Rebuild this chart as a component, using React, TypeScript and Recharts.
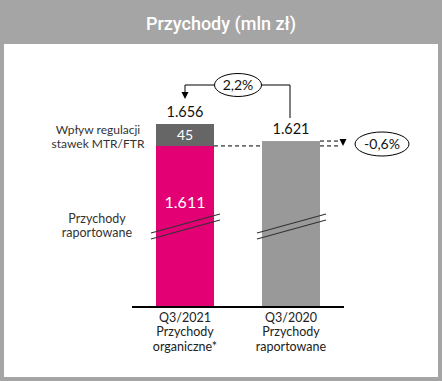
import { BarChart, Bar, XAxis, YAxis, Cell, LabelList, Customized } from 'recharts'

const categories = ['Q3/2021', 'Q3/2020']
const subLabels = [['Przychody', 'organiczne*'], ['Przychody', 'raportowane']]
const baseValues = [1611, 1621]
const mtrValues = [45, 0]
const changeLabels = ['2,2%', '-0,6%']
const mtrLabel = ['Wpływ regulacji', 'stawek MTR/FTR']
const baseLabel = ['Przychody', 'raportowane']

const W = 442
const H = 381
const MARGIN = { top: 102, right: 98, bottom: 14, left: 132 }
const X_AXIS_H = 60
const PLOT_BOTTOM = H - MARGIN.bottom - X_AXIS_H
const PLOT_H = PLOT_BOTTOM - MARGIN.top
const PLOT_W = W - MARGIN.left - MARGIN.right
const DOMAIN: [number, number] = [1281, 1701]
const BAR = 58

const FONT = 'Lato, sans-serif'
const baseColors = ['#e20074', '#999999']

const data = categories.map((name, i) => ({
  name,
  base: baseValues[i],
  mtr: mtrValues[i],
}))

const fmt = (v: number) =>
  v >= 1000 ? `${Math.floor(v / 1000)}.${String(v % 1000).padStart(3, '0')}` : String(v)

// helpers for the annotation overlay (same geometry as the chart)
const yOf = (v: number) => PLOT_BOTTOM - ((v - DOMAIN[0]) / (DOMAIN[1] - DOMAIN[0])) * PLOT_H
const xOf = (i: number) => MARGIN.left + (i + 0.5) * (PLOT_W / categories.length)

function BaseShape(props: any) {
  const { x, y, width, fill } = props
  const h = PLOT_BOTTOM - y
  const l = x - 5
  const r = x + width + 6
  return (
    <g>
      <rect x={x} y={y} width={width} height={h} fill={fill} />
      <line x1={l} y1={PLOT_BOTTOM - 74} x2={r} y2={PLOT_BOTTOM - 93} stroke="#333" strokeWidth={1.2} />
      <line x1={l} y1={PLOT_BOTTOM - 68} x2={r} y2={PLOT_BOTTOM - 87} stroke="#333" strokeWidth={1.2} />
    </g>
  )
}

function BaseLabel(props: any) {
  const { x, y, width, index } = props
  const cx = x + width / 2
  if (mtrValues[index] === 0) {
    // no MTR/FTR part: the total sits right on this bar
    return (
      <text x={cx} y={y - 7} textAnchor="middle" fill="#111" fontSize={14.5} fontFamily={FONT}>
        {fmt(baseValues[index])}
      </text>
    )
  }
  return (
    <text x={cx} y={y + 62} textAnchor="middle" fill="#fff" fontSize={16} fontFamily={FONT}>
      {fmt(baseValues[index])}
    </text>
  )
}

function TopLabel(props: any) {
  const { x, y, width, height, index } = props
  if (!mtrValues[index]) return null
  const cx = x + width / 2
  return (
    <g>
      <text x={cx} y={y + height / 2 + 5} textAnchor="middle" fill="#fff" fontSize={14} fontFamily={FONT}>
        {mtrValues[index]}
      </text>
      <text x={cx} y={y - 7} textAnchor="middle" fill="#111" fontSize={14.5} fontFamily={FONT}>
        {fmt(baseValues[index] + mtrValues[index])}
      </text>
    </g>
  )
}

function Lines({ x, y, lines, gap, size, fill }: { x: number; y: number; lines: string[]; gap: number; size: number; fill: string }) {
  return (
    <text x={x} y={y} textAnchor="middle" fill={fill} fontSize={size} fontFamily={FONT}>
      {lines.map((t, k) => (
        <tspan key={k} x={x} dy={k === 0 ? 0 : gap}>
          {t}
        </tspan>
      ))}
    </text>
  )
}

function CategoryTick(props: any) {
  const { x, payload } = props
  const i = categories.indexOf(payload.value)
  return <Lines x={x} y={PLOT_BOTTOM + 15} lines={[payload.value, ...subLabels[i]]} gap={14.3} size={12.5} fill="#222" />
}

function Annotations() {
  const x0 = xOf(0)
  const x1 = xOf(1)
  const top0 = yOf(baseValues[0] + mtrValues[0])
  const top1 = yOf(baseValues[1] + mtrValues[1])
  const base0 = yOf(baseValues[0])
  const ey = 85
  const ex = (x0 + x1) / 2
  const dashEnd = x1 + BAR / 2 + 20
  const arrowX = dashEnd + 3
  const ex2 = 382
  const ey2 = 144
  return (
    <g fontFamily={FONT}>
      <text x={W / 2} y={30} textAnchor="middle" fill="#fff" fontSize={18} fontWeight={500} fontFamily="Roboto, sans-serif">
        Przychody (mln zł)
      </text>

      {/* change vs Q3/2020 */}
      <polyline points={`${ex - 23},${ey} ${x0},${ey} ${x0},${top0 - 32}`} fill="none" stroke="#000" strokeWidth={1} />
      <polygon points={`${x0 - 3.5},${top0 - 32} ${x0 + 3.5},${top0 - 32} ${x0},${top0 - 25}`} fill="#000" />
      <polyline points={`${ex + 23},${ey} ${x1 - 1},${ey} ${x1 - 1},${top1 - 23}`} fill="none" stroke="#000" strokeWidth={1} />
      <ellipse cx={ex} cy={ey} rx={23.5} ry={11.5} fill="#fff" stroke="#000" strokeWidth={1} />
      <text x={ex} y={ey + 5} textAnchor="middle" fontSize={14} fill="#111">{changeLabels[0]}</text>

      {/* organic vs reported */}
      <line x1={x0 + BAR / 2} y1={base0} x2={x1 - BAR / 2} y2={base0} stroke="#000" strokeDasharray="4 3" />
      <line x1={x1 + BAR / 2} y1={base0} x2={dashEnd} y2={base0} stroke="#000" strokeDasharray="4 3" />
      <line x1={x1 + BAR / 2} y1={top1} x2={dashEnd} y2={top1} stroke="#000" strokeDasharray="4 3" />
      <polygon points={`${arrowX - 3.5},${top1 - 2} ${arrowX + 3.5},${top1 - 2} ${arrowX},${base0}`} fill="#000" />
      <ellipse cx={ex2} cy={ey2} rx={27} ry={12} fill="#fff" stroke="#000" strokeWidth={1} />
      <text x={ex2} y={ey2 + 5} textAnchor="middle" fontSize={14} fill="#111">{changeLabels[1]}</text>

      {/* series captions */}
      <Lines x={98} y={134} lines={mtrLabel} gap={14} size={12} fill="#333" />
      <Lines x={97} y={223} lines={baseLabel} gap={14} size={12.5} fill="#333" />
    </g>
  )
}

export default function App() {
  return (
    <div style={{ position: 'absolute', left: 0, top: 0, width: W, height: H, background: '#a5a5a5' }}>
      <div style={{ position: 'absolute', left: 4, top: 44, width: 434, height: 333, background: '#fff' }} />
      <div style={{ position: 'absolute', left: 0, top: 0 }}>
        <BarChart width={W} height={H} data={data} margin={MARGIN} barSize={BAR}>
          <XAxis
            dataKey="name"
            height={X_AXIS_H}
            axisLine={{ stroke: '#000', strokeWidth: 2 }}
            tickLine={false}
            interval={0}
            tick={<CategoryTick />}
          />
          <YAxis hide width={0} domain={DOMAIN} allowDataOverflow />
          <Bar dataKey="base" stackId="a" shape={<BaseShape />} isAnimationActive={false}>
            {data.map((_, i) => (
              <Cell key={i} fill={baseColors[i]} />
            ))}
            <LabelList content={<BaseLabel />} />
          </Bar>
          <Bar dataKey="mtr" stackId="a" fill="#666666" isAnimationActive={false}>
            <LabelList content={<TopLabel />} />
          </Bar>
          <Customized component={Annotations} />
        </BarChart>
      </div>
    </div>
  )
}
